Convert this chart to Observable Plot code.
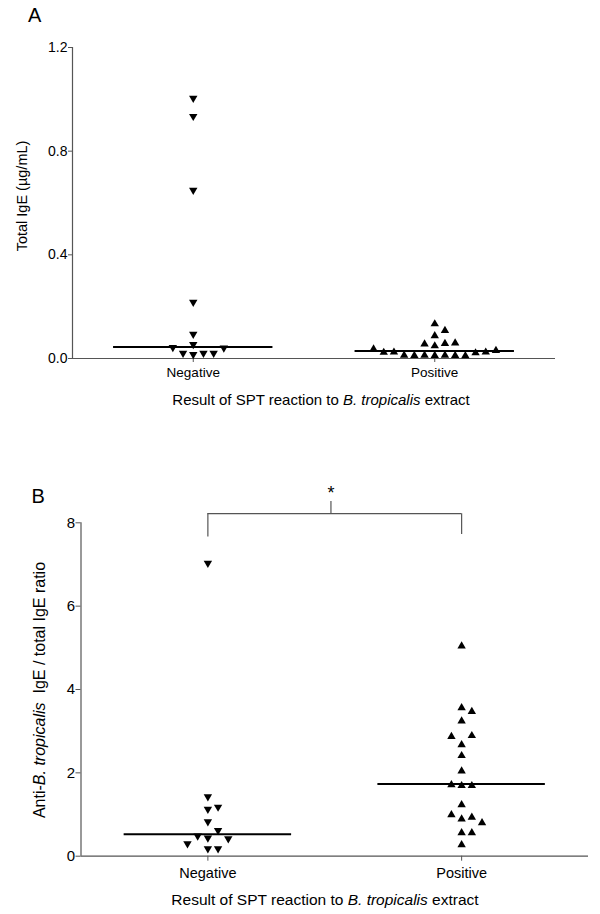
<!DOCTYPE html>
<html>
<head>
<meta charset="utf-8">
<script src="https://cdn.jsdelivr.net/npm/d3@7"></script>
<script src="https://cdn.jsdelivr.net/npm/@observablehq/plot@0.6"></script>
<style>
  body { margin: 0; background: #fff; }
  #wrap { position: relative; width: 600px; height: 914px; overflow: hidden; }
  #wrap > svg, #wrap > div { position: absolute; left: 0; }
</style>
</head>
<body>
<div id="wrap"></div>
<script>
// ---------- data ----------
const groups = ["Negative", "Positive"];
// Panel A: Total IgE (µg/mL)
const totalIgENegative = [1.00, 0.93, 0.645, 0.213, 0.089, 0.05, 0.011, 0.016, 0.016, 0.016, 0.038, 0.036];
const totalIgEPositive = [0.016, 0.017, 0.017, 0.016, 0.016, 0.015, 0.017, 0.026, 0.029, 0.029, 0.028, 0.035,
                          0.041, 0.053, 0.062, 0.060, 0.064, 0.092, 0.112, 0.138];
// Panel B: anti-B. tropicalis IgE / total IgE ratio
const ratioNegative = [7.0, 1.40, 1.10, 0.80, 0.41, 0.15, 0.15, 0.59, 0.46, 0.39, 0.27, 1.15];
const ratioPositive = [5.07, 3.59, 3.27, 2.70, 2.44, 2.07, 1.72, 1.26, 0.92, 0.59, 0.30,
                       3.50, 2.92, 2.90, 1.72, 1.74, 0.59, 0.96, 1.02, 0.83];
const yTicksA = [0, 0.4, 0.8, 1.2];
const yTicksB = [0, 2, 4, 6, 8];
const significance = "*";

const FONT = "'Liberation Sans', Arial, Helvetica, sans-serif";
const AXIS = "#555";

// ---------- helpers ----------
function triangle(down) {
  return {
    draw(ctx, size) {
      const r = Math.sqrt(size / Math.PI);
      const w = r * 1.05, h = r * 0.9, s = down ? -1 : 1;
      ctx.moveTo(0, -h * s);
      ctx.lineTo(w, h * s);
      ctx.lineTo(-w, h * s);
      ctx.closePath();
    }
  };
}
const triUp = triangle(false), triDown = triangle(true);

// column-scatter layout: spread overlapping points sideways in 10px steps
function columnScatter(values, group, yPx, pxPerUnit, stepPx, gap) {
  const gi = groups.indexOf(group);
  const placed = [];
  return values.map(v => {
    const py = yPx(v);
    let col = 0;
    for (let i = 0; ; i++) {
      const c = i === 0 ? 0 : (i % 2 ? (i + 1) / 2 : -i / 2);
      if (!placed.some(p => p.col === c && Math.abs(p.py - py) < gap)) { col = c; break; }
    }
    placed.push({col, py});
    return {group, gi, value: v, x: gi + col * stepPx / pxPerUnit};
  });
}

function panel(opts) {
  const {top, height, mt, mb, ml, mr, yDomain, yTicks, yFormat, negVals, posVals,
         tickFont, tickSize, xPad, extra} = opts;
  const yPx = d3.scaleLinear().domain(yDomain).range([height - mb, mt]);
  const pxPerUnit = (600 - ml - mr) / 2;
  const neg = columnScatter(negVals, "Negative", yPx, pxPerUnit, 10.2, 9.5);
  const pos = columnScatter(posVals, "Positive", yPx, pxPerUnit, 10.2, 9.5);
  const medians = [
    {gi: 0, m: d3.median(negVals)},
    {gi: 1, m: d3.median(posVals)}
  ];
  const svg = Plot.plot({
    width: 600, height,
    marginTop: mt, marginBottom: mb, marginLeft: ml, marginRight: mr,
    style: {fontFamily: FONT, fontSize: tickFont + "px", background: "transparent", overflow: "visible", color: "#000"},
    x: {domain: [-0.5, 1.5], label: null},
    y: {domain: yDomain, label: null},
    marks: [
      Plot.ruleX([-0.5], {y1: yDomain[0], y2: yDomain[1], stroke: AXIS, strokeWidth: 1.2}),
      Plot.ruleY([0], {x1: -0.5, x2: 1.5, stroke: AXIS, strokeWidth: 1.2}),
      Plot.axisY(yTicks, {tickFormat: yFormat, tickSize, tickPadding: 1, stroke: AXIS, fontSize: tickFont, label: null}),
      Plot.axisX([0, 1], {tickFormat: i => groups[i], tickSize, tickPadding: xPad, stroke: AXIS, fontSize: tickFont - 0.5, label: null}),
      Plot.ruleY(medians, {y: "m", x1: d => d.gi - 0.33, x2: d => d.gi + 0.33, stroke: "#000", strokeWidth: 2}),
      Plot.dot(neg, {x: "x", y: "value", symbol: triDown, r: 4, fill: "#000", stroke: "none"}),
      Plot.dot(pos, {x: "x", y: "value", symbol: triUp, r: 4, fill: "#000", stroke: "none"}),
      ...(extra || [])
    ]
  });
  svg.style.top = top + "px";
  return svg;
}

const wrap = document.getElementById("wrap");

// ---------- panel A ----------
wrap.appendChild(panel({
  top: 0, height: 380, mt: 47, mb: 22, ml: 72, mr: 45,
  yDomain: [0, 1.2], yTicks: yTicksA, yFormat: d3.format(".1f"),
  negVals: totalIgENegative, posVals: totalIgEPositive,
  tickFont: 14, tickSize: 4, xPad: 5
}));

// ---------- panel B ----------
const bracketY = 8.22;
wrap.appendChild(panel({
  top: 460, height: 454, mt: 62.3, mb: 58.3, ml: 80.5, mr: 12,
  yDomain: [0, 8], yTicks: yTicksB, yFormat: d3.format("d"),
  negVals: ratioNegative, posVals: ratioPositive,
  tickFont: 15, tickSize: 5, xPad: 7,
  extra: [
    Plot.ruleY([bracketY], {x1: 0, x2: 1, stroke: AXIS, strokeWidth: 1.2}),
    Plot.ruleX([0], {y1: bracketY, y2: 7.66, stroke: AXIS, strokeWidth: 1.2}),
    Plot.ruleX([1], {y1: bracketY, y2: 7.72, stroke: AXIS, strokeWidth: 1.2}),
    Plot.ruleX([0.485], {y1: bracketY, y2: 8.51, stroke: AXIS, strokeWidth: 1.2}),
    Plot.text([significance], {x: 0.485, y: 8.72, text: d => d, fontSize: 18, fill: "#000"})
  ]
}));

// ---------- titles / labels overlay ----------
const ov = d3.select(wrap).append("svg")
  .attr("width", 600).attr("height", 914)
  .style("top", "0px").style("pointer-events", "none")
  .style("font-family", FONT).attr("fill", "#000");

ov.append("text").attr("x", 28).attr("y", 22).attr("font-size", 20).text("A");
ov.append("text").attr("x", 31.5).attr("y", 502.5).attr("font-size", 20).text("B");

function xTitle(x, y, size) {
  const t = ov.append("text").attr("x", x).attr("y", y).attr("font-size", size).attr("text-anchor", "middle");
  t.append("tspan").text("Result of SPT reaction to ");
  t.append("tspan").attr("font-style", "italic").text("B. tropicalis");
  t.append("tspan").text(" extract");
}
xTitle(321, 405, 15);
xTitle(325, 905, 15.5);

ov.append("text")
  .attr("transform", "translate(26.5,196) rotate(-90)")
  .attr("text-anchor", "middle").attr("font-size", 14.5)
  .text("Total IgE (\u00b5g/mL)");

const yb = ov.append("text")
  .attr("transform", "translate(44.5,690) rotate(-90)")
  .attr("text-anchor", "middle").attr("font-size", 16)
  .attr("xml:space", "preserve");
yb.append("tspan").text("Anti-");
yb.append("tspan").attr("font-style", "italic").text("B. tropicalis");
yb.append("tspan").text("\u00a0 IgE / total IgE ratio");
</script>
</body>
</html>
